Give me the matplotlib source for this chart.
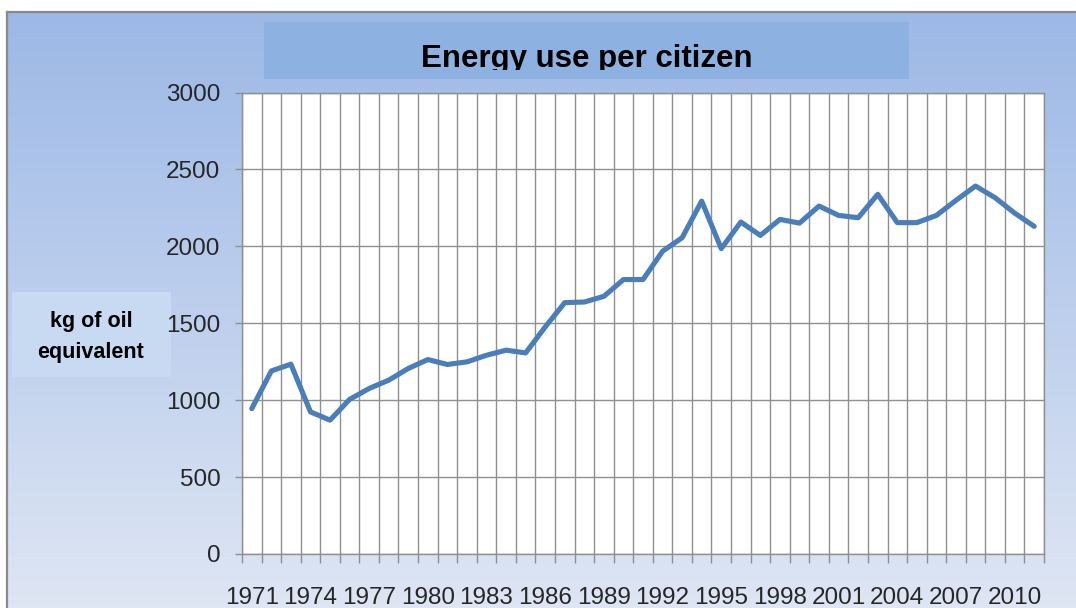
import matplotlib
matplotlib.use('Agg')
import matplotlib.pyplot as plt
import numpy as np
from matplotlib.patches import Rectangle
from matplotlib.lines import Line2D
from matplotlib.transforms import Bbox
from matplotlib import font_manager

# ---------------- data ----------------
years = list(range(1971, 2012))
energy = [945, 1190, 1234, 924, 870, 1005, 1076, 1130, 1206, 1264,
          1232, 1249, 1292, 1325, 1307, 1476, 1634, 1638, 1675, 1784,
          1784, 1968, 2056, 2294, 1985, 2158, 2071, 2175, 2151, 2262,
          2201, 2186, 2338, 2154, 2154, 2201, 2299, 2392, 2316, 2216, 2130]
y_ticks = [0, 500, 1000, 1500, 2000, 2500, 3000]
x_label_years = years[::3]
title_text = "Energy use per citizen"
ylabel_lines = ["kg of oil", "equivalent"]

# ---------------- fonts ----------------
names = {f.name for f in font_manager.fontManager.ttflist}
base_font = 'Liberation Sans' if 'Liberation Sans' in names else 'DejaVu Sans'

W, H = 1076, 608
fig = plt.figure(figsize=(W / 100, H / 100), dpi=100)
fig.patch.set_facecolor('white')

# ---------------- background (pixel coordinates) ----------------
bg = fig.add_axes([0, 0, 1, 1])
bg.set_xlim(0, W)
bg.set_ylim(H, 0)
bg.axis('off')
top_c = np.array([0.612, 0.722, 0.902])
bot_c = np.array([0.872, 0.902, 0.956])
t = np.linspace(0, 1, 256)[:, None, None]
grad = top_c[None, None, :] * (1 - t) + bot_c[None, None, :] * t
bg.imshow(grad, extent=(7, W, H, 12), aspect='auto', interpolation='bilinear', zorder=0)
bg.add_line(Line2D([7, W], [12, 12], color='#8a8a8a', lw=1.6, zorder=2))
bg.add_line(Line2D([7, 7], [12, H], color='#8a8a8a', lw=1.6, zorder=2))

# title box
bg.add_patch(Rectangle((264, 22), 645, 57, facecolor='#8db2e2', edgecolor='none', zorder=1))
ttl = bg.text(587, 67, title_text, ha='center', va='baseline', fontsize=22.5,
              fontweight='bold', family=[base_font, 'DejaVu Sans'], color='black', zorder=3)
ttl.set_clip_box(Bbox([[264, H - 70], [909, H - 22]]))
ttl.set_clip_on(True)

# y-label box
bg.add_patch(Rectangle((12, 292), 159, 85, facecolor='#c8daf1', edgecolor='none', zorder=1))
bg.text(91, 327, ylabel_lines[0], ha='center', va='baseline', fontsize=15.5,
        fontweight='bold', family=[base_font, 'DejaVu Sans'], color='black', zorder=3)
bg.text(91, 358, ylabel_lines[1], ha='center', va='baseline', fontsize=15.5,
        fontweight='bold', family=[base_font, 'DejaVu Sans'], color='black', zorder=3)

# ---------------- main plot ----------------
L, R, T, B = 242, 1044, 92.5, 554
ax = fig.add_axes([L / W, 1 - B / H, (R - L) / W, (B - T) / H])
ax.set_facecolor('white')
n = len(years)
xpos = np.arange(n) + 0.5
ax.plot(xpos, energy, color='#4a7ebb', lw=3.7, solid_joinstyle='round',
        solid_capstyle='round', zorder=3)
ax.set_xlim(0, n)
ax.set_ylim(0, 3000)

grid_c = '#8f8f8f'
for s in ax.spines.values():
    s.set_color(grid_c)
    s.set_linewidth(1.0)

ax.set_yticks(y_ticks)
ax.set_yticklabels([str(v) for v in y_ticks])
ax.tick_params(axis='y', which='major', direction='out', length=5, width=1,
               color=grid_c, pad=10.5, labelsize=17.5, labelcolor='#262626')
for lbl in ax.get_yticklabels():
    lbl.set_family([base_font, 'DejaVu Sans'])

major_x = [years.index(y) + 0.5 for y in x_label_years]
ax.set_xticks(major_x)
ax.set_xticklabels([str(y) for y in x_label_years])
ax.set_xticks(np.arange(0, n + 1), minor=True)
ax.tick_params(axis='x', which='major', length=0, pad=23.5, labelsize=17.5, labelcolor='#262626')
ax.tick_params(axis='x', which='minor', direction='out', length=6.5, width=1, color=grid_c)
for lbl in ax.get_xticklabels():
    lbl.set_family([base_font, 'DejaVu Sans'])

ax.set_axisbelow(True)
ax.grid(which='minor', axis='x', color=grid_c, lw=1.0)
ax.grid(which='major', axis='y', color=grid_c, lw=1.0)
ax.grid(which='major', axis='x', visible=False)

fig.savefig('out.png', dpi=100, facecolor='white')
